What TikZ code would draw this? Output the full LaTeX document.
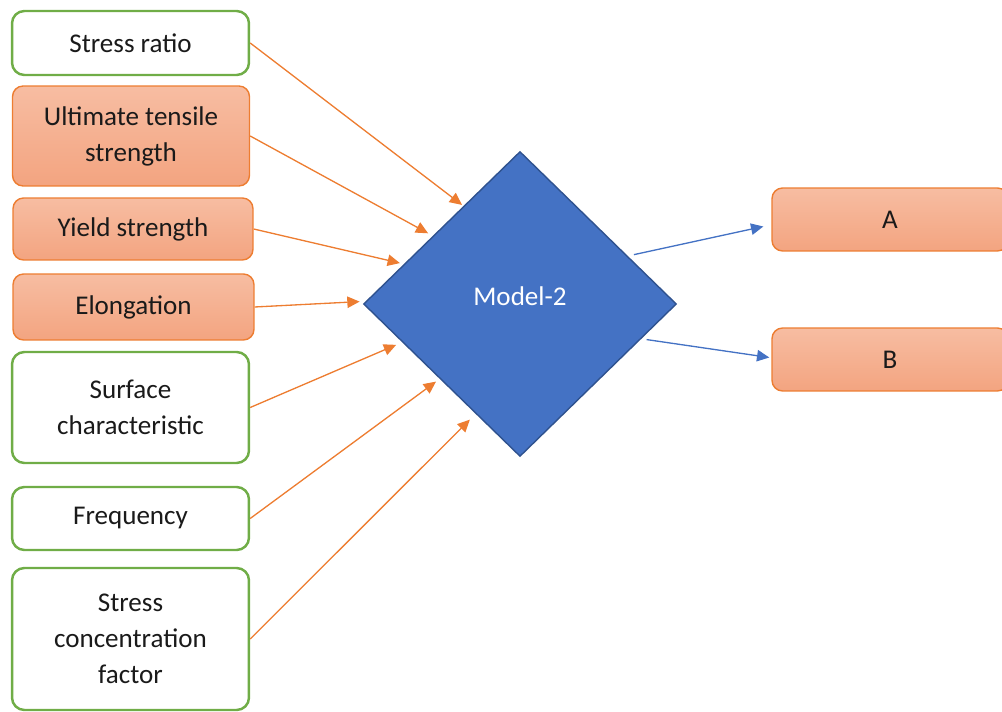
\documentclass[tikz,border=0pt]{standalone}
\usepackage{fontspec}
\setmainfont{Carlito}
\usepackage{xcolor}
\usepackage{tikz}
\usetikzlibrary{positioning,arrows.meta,shapes.geometric}
\definecolor{offorange}{RGB}{237,125,49}
\definecolor{offgreen}{RGB}{112,173,71}
\definecolor{offblue}{RGB}{68,114,196}
\definecolor{offnavy}{RGB}{47,82,143}
\definecolor{peachtop}{RGB}{247,189,162}
\definecolor{peachbot}{RGB}{243,164,128}
\definecolor{inktext}{RGB}{26,26,26}
\newcommand{\boxfont}{\fontsize{15.4pt}{20.5pt}\selectfont}
\tikzset{
  inbox/.style   ={draw=offgreen, line width=1.4pt, rectangle, rounded corners=7pt, align=center, fill=white, minimum width=4.74cm, text=inktext, font=\boxfont},
  propbox/.style ={draw=offorange, line width=0.8pt, rectangle, rounded corners=6pt, align=center, top color=peachtop, bottom color=peachbot, minimum width=4.74cm, text=inktext, font=\boxfont},
  model/.style   ={draw=offnavy, line width=0.8pt, diamond, fill=offblue, inner sep=0pt, minimum width=6.26cm, minimum height=6.1cm, text=white, font=\boxfont},
  arr/.style     ={-{Triangle[length=7pt, width=6.5pt]}, draw=offorange, fill=offorange, line width=0.75pt},
  outarr/.style  ={-{Triangle[length=7pt, width=6.5pt]}, draw=offblue, fill=offblue, line width=0.75pt},
}
\begin{document}
\begin{tikzpicture}[x=0.02cm, y=-0.02cm]
  \useasboundingbox (0,0) rectangle (1002,712);

  % inputs on the left
  \node[inbox]   (sr)  at (130.5,43)  [minimum height=1.28cm] {Stress ratio};
  \node[propbox] (uts) at (131,136)   [minimum height=2.0cm]  {Ultimate tensile\\strength};
  \node[propbox] (ys)  at (133,229)   [minimum height=1.24cm, minimum width=4.8cm] {Yield strength};
  \node[propbox] (el)  at (133.5,307) [minimum height=1.32cm, minimum width=4.82cm] {Elongation};
  \node[inbox]   (sc)  at (130.5,407.5) [minimum height=2.22cm] {Surface\\characteristic};
  \node[inbox]   (fr)  at (130.5,518.5) [minimum height=1.26cm] {Frequency};
  \node[inbox]   (scf) at (130.5,639) [minimum height=2.84cm] {Stress\\concentration\\factor};

  % model and outputs
  \node[model] (m) at (520,304) {\raisebox{0.55em}{Model-2}};
  \node[propbox] (a) at (890,219.5) [minimum height=1.26cm, minimum width=4.72cm] {A};
  \node[propbox] (b) at (890,359.5) [minimum height=1.26cm, minimum width=4.72cm] {B};

  % inputs into the model
  \draw[arr, shorten >=1pt]   (sr.east)  -- (m.120.9);
  \draw[arr, shorten >=3pt]   (uts.east) -- (m.142);
  \draw[arr, shorten >=2.3pt] (ys.east)  -- (m.161.7);
  \draw[arr, shorten >=3.4pt] (el.east)  -- (m.179.3);
  \draw[arr, shorten >=3.7pt] (sc.east)  -- (m.198.4);
  \draw[arr, shorten >=2.6pt] (fr.east)  -- (m.223);
  \draw[arr, shorten >=4.6pt] (scf.east) -- (m.248);

  % model to outputs
  \draw[outarr, shorten <=3.5pt] (m.24.3)  -- ([shift={(-8,7)}]a.west);
  \draw[outarr, shorten <=3pt]   (m.-16.9) -- ([shift={(-2,-2)}]b.west);
\end{tikzpicture}
\end{document}
